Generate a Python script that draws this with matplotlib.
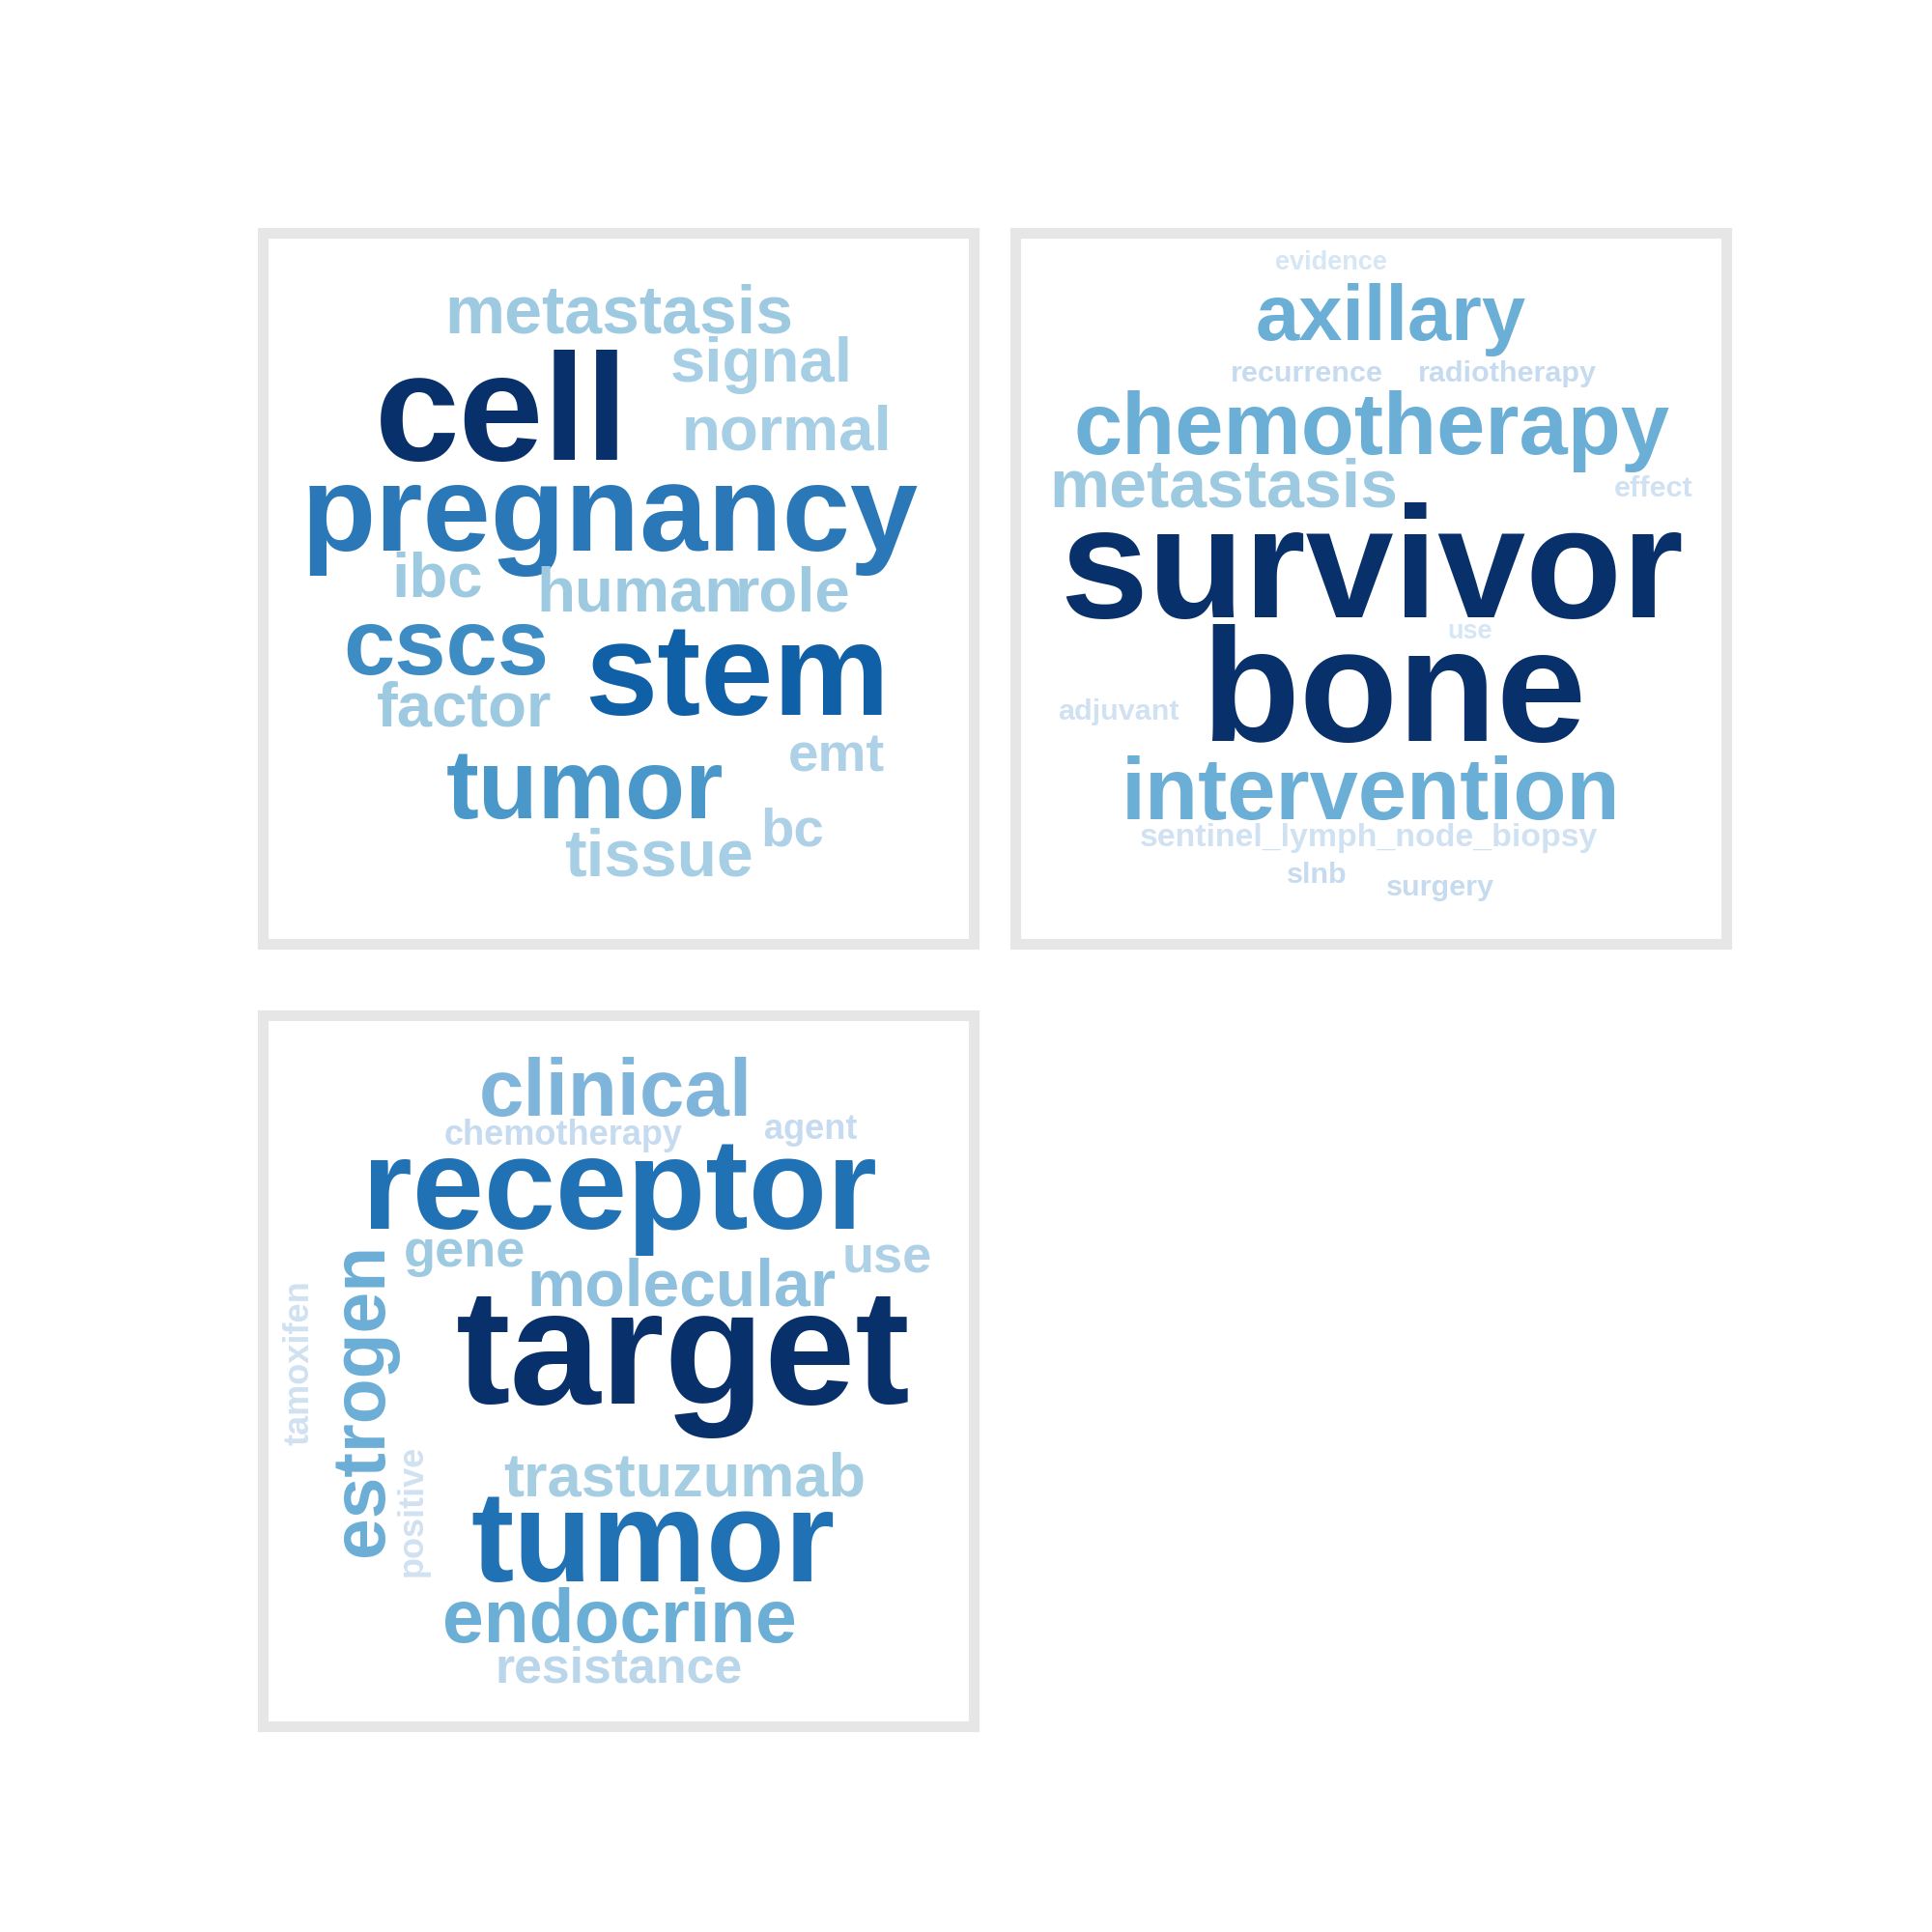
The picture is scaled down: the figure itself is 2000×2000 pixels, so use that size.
import matplotlib.pyplot as plt
from matplotlib.patches import Rectangle

plt.rcParams['font.family'] = ['Liberation Sans', 'DejaVu Sans']

# word, x, y (px in a 1560 view), em size, colour, rotation
words_1 = ["metastasis", "signal", "cell", "normal", "pregnancy", "ibc", "human", "role",
           "cscs", "stem", "factor", "emt", "tumor", "bc", "tissue"]
x_1 = [500, 615, 405, 635, 492, 353, 517, 640, 360, 595, 375, 675, 472, 640, 532]
y_1 = [255, 295, 340, 350, 420, 468, 480, 480, 525, 550, 573, 612, 640, 672, 693]
size_1 = [62, 58, 140, 58, 112, 58, 58, 58, 85, 120, 58, 50, 90, 50, 60]
col_1 = ["#9ecae1", "#a6cee4", "#08306b", "#a6cee4", "#2a78b8", "#9ecae1", "#9ecae1", "#9ecae1",
         "#3d8cc4", "#1060a8", "#9ecae1", "#aed1e7", "#4a98c9", "#aed1e7", "#a6cee4"]
rot_1 = [0] * 15

words_2 = ["evidence", "axillary", "recurrence", "radiotherapy", "chemotherapy", "metastasis",
           "effect", "survivor", "use", "adjuvant", "bone", "intervention",
           "sentinel_lymph_node_biopsy", "slnb", "surgery"]
x_2 = [1075, 1123, 1055, 1217, 1108, 988, 1335, 1108, 1187, 903, 1125, 1107, 1105, 1063, 1163]
y_2 = [212, 258, 302, 302, 348, 395, 395, 465, 510, 575, 565, 643, 677, 707, 717]
size_2 = [24, 72, 27, 27, 80, 62, 27, 145, 24, 27, 148, 80, 30, 27, 27]
col_2 = ["#d6e6f4", "#6baed6", "#c6dbef", "#c6dbef", "#6baed6", "#9ecae1", "#d0e1f2",
         "#08306b", "#d6e6f4", "#d0e1f2", "#08306b", "#6baed6", "#d0e1f2", "#c6dbef", "#c6dbef"]
rot_2 = [0] * 15

words_3 = ["clinical", "chemotherapy", "agent", "receptor", "gene", "use", "molecular", "target",
           "tamoxifen", "estrogen", "positive", "trastuzumab", "tumor", "endocrine", "resistance"]
x_3 = [497, 455, 655, 500, 375, 716, 550, 552, 242, 293, 333, 553, 527, 500, 500]
y_3 = [884, 917, 912, 965, 1012, 1017, 1040, 1100, 1100, 1130, 1220, 1195, 1250, 1310, 1348]
size_3 = [74, 32, 32, 118, 48, 48, 60, 150, 32, 68, 32, 56, 118, 68, 46]
col_3 = ["#7fb5da", "#c6dbef", "#c6dbef", "#2171b5", "#9ecae1", "#aed1e7", "#8fc0dd", "#08306b",
         "#d0e1f2", "#6baed6", "#d0e1f2", "#a6cee3", "#2171b5", "#6baed6", "#b9d6ea"]
rot_3 = [0, 0, 0, 0, 0, 0, 0, 0, 90, 90, 90, 0, 0, 0, 0]

panels = [(212, 188, words_1, x_1, y_1, size_1, col_1, rot_1),
          (820, 188, words_2, x_2, y_2, size_2, col_2, rot_2),
          (212, 820, words_3, x_3, y_3, size_3, col_3, rot_3)]
W = 1560.0
BOX = 574.0

fig = plt.figure(figsize=(20, 20), dpi=100)
for px, py, words, xs, ys, sizes, cols, rots in panels:
    ax = fig.add_axes([px / W, 1 - (py + BOX) / W, BOX / W, BOX / W])
    ax.set_xlim(px, px + BOX)
    ax.set_ylim(py + BOX, py)
    ax.axis('off')
    ax.add_patch(Rectangle((px, py), BOX, BOX, fill=False, edgecolor="#e6e6e6",
                           linewidth=8, clip_on=False))
    for w, x, y, s, c, r in zip(words, xs, ys, sizes, cols, rots):
        ax.text(x, y, w, fontsize=s * 0.923 * 0.88, color=c, fontweight='bold',
                ha='center', va='center', rotation=r, clip_on=False)

fig.savefig("out.png", dpi=100, facecolor="white")
